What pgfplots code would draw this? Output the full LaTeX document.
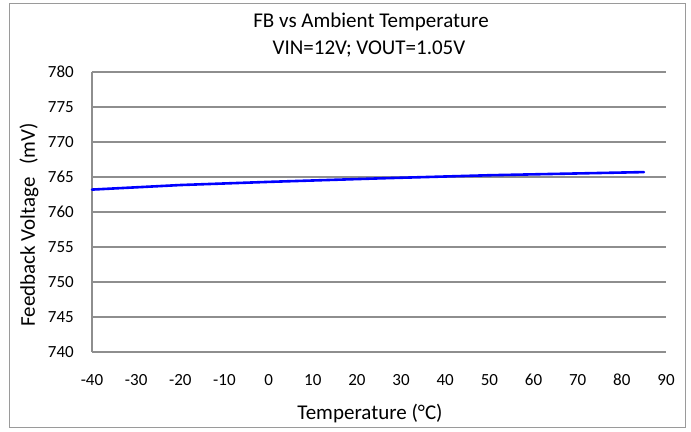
\documentclass[border=0pt]{standalone}
\usepackage{fontspec}
\setmainfont{Carlito}
\usepackage{pgfplots}
\pgfplotsset{compat=1.18}
\definecolor{gridgray}{HTML}{8E8E8E}
\definecolor{framegray}{HTML}{9A9A9A}

\begin{document}
\begin{tikzpicture}
\begin{axis}[
    name=ax,
    at={(0,0)}, anchor=south west,
    scale only axis,
    width=574pt, height=280pt,
    xmin=-40, xmax=90,
    ymin=740, ymax=780,
    xtick={-40,-30,...,90},
    ytick={740,745,...,780},
    ymajorgrids,
    grid style={draw=gridgray, line width=1.3pt},
    axis y line*=left,
    axis x line*=bottom,
    x axis line style={draw=none},
    y axis line style={draw=gridgray, line width=1.3pt},
    major tick length=0pt,
    /pgf/number format/assume math mode=true,
    ticklabel style={font=\fontsize{17}{20}\selectfont, inner sep=0pt},
    yticklabel style={xshift=-18pt},
    xticklabel style={yshift=-22pt},
    clip=false
]
    \addplot[color=blue, line width=2.6pt, line cap=round] coordinates {
        (-40,763.2)(-20,763.85)(0,764.3)(25,764.8)(50,765.25)(85,765.7)
    };
\end{axis}
\node[anchor=base, font=\fontsize{21}{24}\selectfont] at ([xshift=-8pt,yshift=44pt]ax.north) {FB vs Ambient Temperature};
\node[anchor=base, font=\fontsize{21}{24}\selectfont] at ([xshift=-10pt,yshift=17pt]ax.north) {VIN=12V; VOUT=1.05V};
\node[anchor=base, font=\fontsize{21}{24}\selectfont] at ([xshift=-9pt,yshift=-68pt]ax.south) {Temperature (°C)};
\node[anchor=base, rotate=90, font=\fontsize{21}{24}\selectfont] at ([xshift=-57pt,yshift=-13pt]ax.west) {Feedback Voltage\hspace{0.6em}(mV)};
\draw[framegray, line width=1pt] ([xshift=-82pt,yshift=-76pt]ax.south west) rectangle ([xshift=19pt,yshift=68pt]ax.north east);
\path[use as bounding box] ([xshift=-92pt,yshift=-80pt]ax.south west) rectangle ([xshift=25pt,yshift=72pt]ax.north east);
\end{tikzpicture}
\end{document}
